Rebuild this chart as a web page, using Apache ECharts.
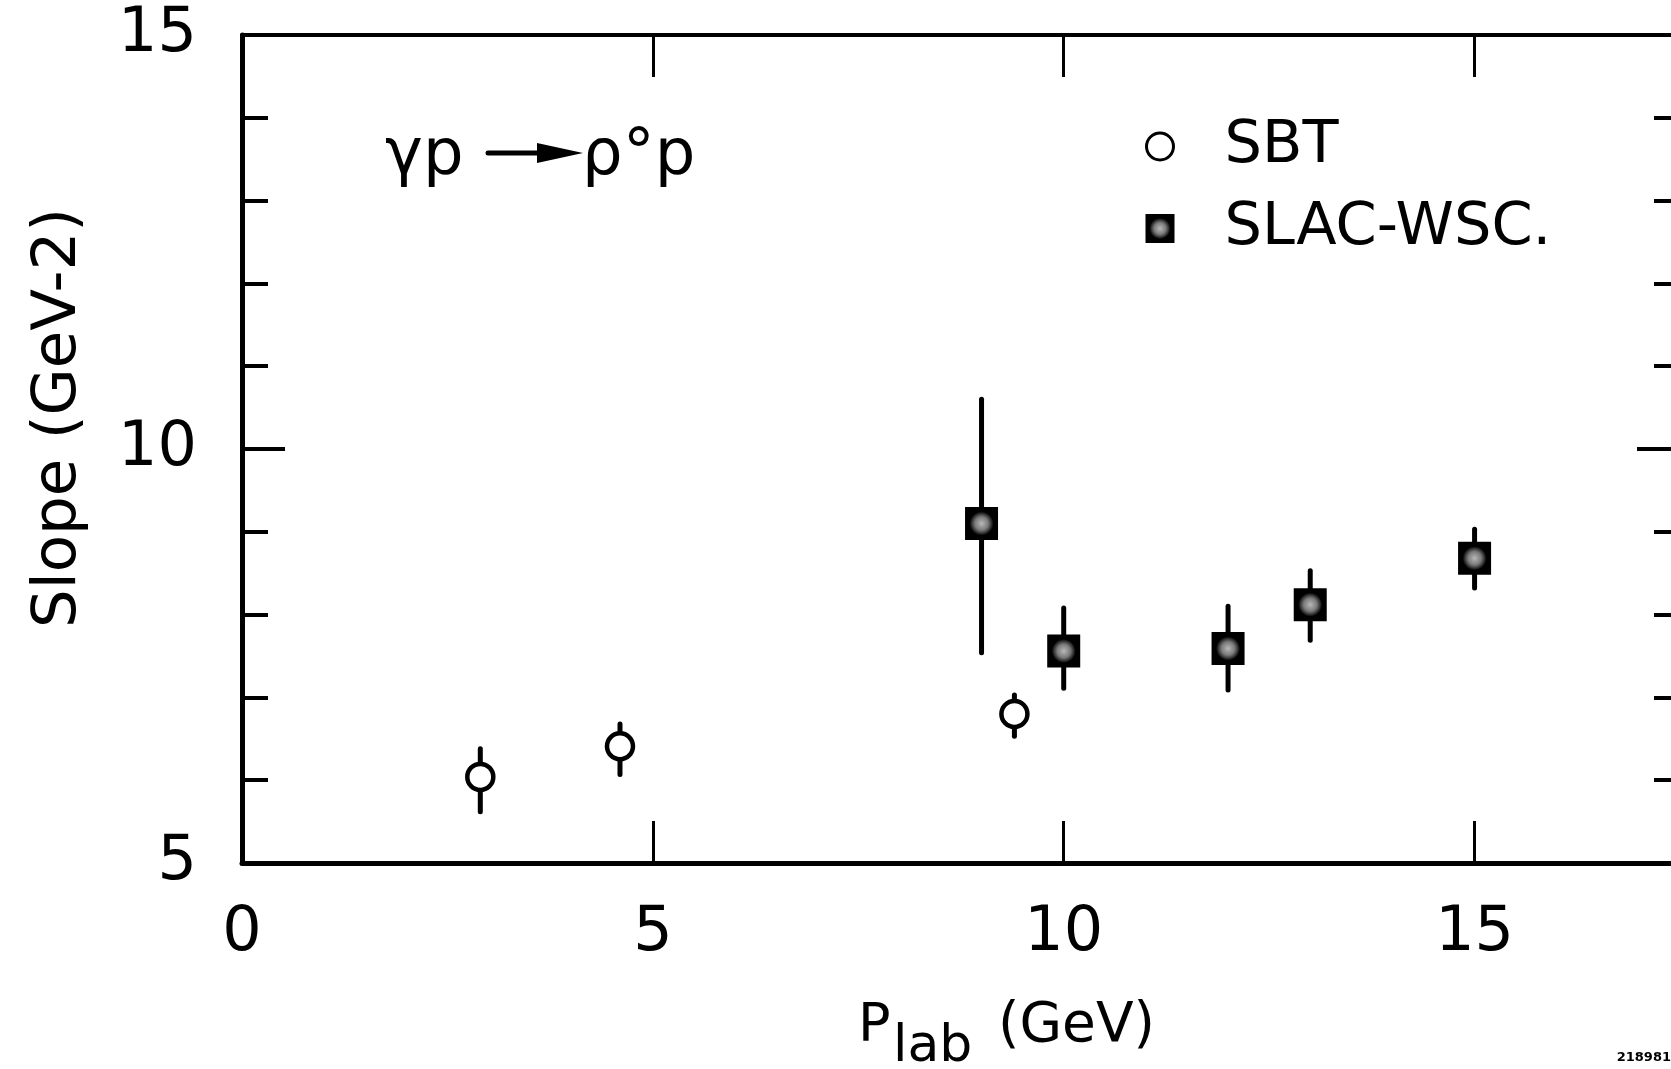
<!DOCTYPE html>
<html>
<head>
<meta charset="utf-8">
<script src="https://cdn.jsdelivr.net/npm/echarts@6/dist/echarts.min.js"></script>
<style>
html,body{margin:0;padding:0;background:#fff;}
#chart{width:1671px;height:1069px;}
</style>
</head>
<body>
<div id="chart"></div>
<script>
// ---- data ----
const sbtP     = [2.9, 4.6, 9.4];
const sbtSlope = [6.04, 6.41, 6.80];
const sbtLow   = [5.62, 6.07, 6.53];
const sbtHigh  = [6.38, 6.68, 7.03];

const slacP     = [9.0, 10.0, 12.0, 13.0, 15.0];
const slacSlope = [9.10, 7.56, 7.59, 8.12, 8.68];
const slacLow   = [7.54, 7.11, 7.09, 7.69, 8.32];
const slacHigh  = [10.60, 8.08, 8.10, 8.53, 9.03];

const xTicks = [0, 5, 10, 15];
const yTicks = [5, 10, 15];

const FONT = 'DejaVu Sans';

const chart = echarts.init(document.getElementById('chart'));

const sbtPts  = sbtP.map((x, i) => [x, sbtSlope[i]]);
const sbtErr  = sbtP.map((x, i) => [x, sbtLow[i], sbtHigh[i]]);
const slacPts = slacP.map((x, i) => [x, slacSlope[i]]);
const slacErr = slacP.map((x, i) => [x, slacLow[i], slacHigh[i]]);

const squareFill = {
  type: 'radial', x: 0.5, y: 0.5, r: 0.5,
  colorStops: [
    {offset: 0, color: '#b8b8b8'},
    {offset: 0.4, color: '#7a7a7a'},
    {offset: 0.62, color: '#2a2a2a'},
    {offset: 0.72, color: '#000'},
    {offset: 1, color: '#000'}
  ]
};

function errRender(params, api) {
  const x = api.value(0);
  const p1 = api.coord([x, api.value(1)]);
  const p2 = api.coord([x, api.value(2)]);
  return {
    type: 'line',
    shape: {x1: p1[0], y1: p1[1], x2: p2[0], y2: p2[1]},
    style: {stroke: '#000', lineWidth: 5, lineCap: 'round'}
  };
}

const xCommon = {
  type: 'value', min: 0, max: 17.5, interval: 5,
  splitLine: {show: false}
};
const yCommon = {
  type: 'value', min: 5, max: 15, interval: 5,
  splitLine: {show: false},
  minorTick: {show: true, splitNumber: 5, length: 26, lineStyle: {color: '#000', width: 4}},
  axisTick: {show: true, inside: true, length: 43, lineStyle: {color: '#000', width: 4}}
};

chart.setOption({
  animation: false,
  backgroundColor: '#fff',
  textStyle: {fontFamily: FONT},
  grid: {left: 242, top: 35, width: 1438, height: 828, containLabel: false,
         outerBoundsMode: 'none'},
  xAxis: [
    Object.assign({}, xCommon, {
      position: 'bottom',
      axisLine: {show: true, onZero: false, lineStyle: {color: '#000', width: 5}},
      axisTick: {show: true, inside: true, length: 42, lineStyle: {color: '#000', width: 3}},
      axisLabel: {
        show: true, margin: 40, color: '#000', fontSize: 62, fontFamily: FONT,
        showMaxLabel: false,
        formatter: v => (xTicks.indexOf(v) >= 0 ? String(v) : '')
      }
    }),
    Object.assign({}, xCommon, {
      position: 'top',
      axisLine: {show: true, onZero: false, lineStyle: {color: '#000', width: 4}},
      axisTick: {show: true, inside: true, length: 42, lineStyle: {color: '#000', width: 3}},
      axisLabel: {show: false}
    })
  ],
  yAxis: [
    Object.assign({}, yCommon, {
      position: 'left',
      axisLine: {show: true, onZero: false, lineStyle: {color: '#000', width: 5}},
      axisLabel: {
        show: true, margin: 45, color: '#000', fontSize: 62, fontFamily: FONT,
        formatter: v => (yTicks.indexOf(v) >= 0 ? String(v) : '')
      }
    }),
    Object.assign({}, yCommon, {
      position: 'right',
      axisLine: {show: true, onZero: false, lineStyle: {color: '#000', width: 4}},
      axisLabel: {show: false}
    })
  ],
  legend: {
    orient: 'vertical',
    left: 1140, top: 112,
    itemWidth: 27, itemHeight: 27,
    itemGap: 23,
    textStyle: {color: '#000', fontSize: 59, fontFamily: FONT, padding: [0, 0, 0, 46]},
    data: [
      {name: 'SBT', icon: 'circle',
       itemStyle: {color: '#fff', borderColor: '#000', borderWidth: 3}},
      {name: 'SLAC-WSC.', icon: 'rect',
       itemStyle: {color: squareFill, borderColor: '#000', borderWidth: 2}}
    ]
  },
  series: [
    {
      name: 'SBT err', type: 'custom', renderItem: errRender,
      data: sbtErr, encode: {x: 0, y: [1, 2]}, z: 2, silent: true
    },
    {
      name: 'SBT', type: 'scatter', data: sbtPts,
      symbol: 'circle', symbolSize: 26,
      itemStyle: {color: '#fff', borderColor: '#000', borderWidth: 4.5, opacity: 1},
      z: 3
    },
    {
      name: 'SLAC err', type: 'custom', renderItem: errRender,
      data: slacErr, encode: {x: 0, y: [1, 2]}, z: 2, silent: true
    },
    {
      name: 'SLAC-WSC.', type: 'scatter', data: slacPts,
      symbol: 'rect', symbolSize: [31, 31],
      itemStyle: {color: squareFill, borderColor: '#000', borderWidth: 2, opacity: 1},
      z: 3
    }
  ],
  graphic: [
    // y-axis title
    {type: 'text', x: 59, y: 418, rotation: Math.PI / 2,
     style: {text: 'Slope (GeV-2)', fontFamily: FONT, fontSize: 61, fill: '#000',
             align: 'center', verticalAlign: 'middle'}},
    // x-axis title  P_lab (GeV)
    {type: 'text', x: 858, y: 1027,
     style: {text: 'P', fontFamily: FONT, fontSize: 54, fill: '#000',
             align: 'left', verticalAlign: 'middle'}},
    {type: 'text', x: 893, y: 1047,
     style: {text: 'lab', fontFamily: FONT, fontSize: 52, fill: '#000',
             align: 'left', verticalAlign: 'middle'}},
    {type: 'text', x: 998, y: 1027,
     style: {text: '(GeV)', fontFamily: FONT, fontSize: 55, fill: '#000',
             align: 'left', verticalAlign: 'middle'}},
    // reaction label  γp → ρ°p
    {type: 'text', x: 385, y: 157,
     style: {text: 'γp', fontFamily: FONT, fontSize: 64, fill: '#000',
             align: 'left', verticalAlign: 'middle'}},
    {type: 'line', shape: {x1: 488, y1: 153, x2: 548, y2: 153},
     style: {stroke: '#000', lineWidth: 5, lineCap: 'round'}},
    {type: 'polygon', shape: {points: [[537, 143], [583, 153], [537, 163]]},
     style: {fill: '#000'}},
    {type: 'text', x: 582, y: 157,
     style: {text: 'ρ°p', fontFamily: FONT, fontSize: 64, fill: '#000',
             align: 'left', verticalAlign: 'middle'}},
    // figure number
    {type: 'text', x: 1671, y: 1058,
     style: {text: '218981', fontFamily: FONT, fontSize: 13, fontWeight: 'bold', fill: '#000',
             align: 'right', verticalAlign: 'middle'}}
  ]
});
</script>
</body>
</html>
